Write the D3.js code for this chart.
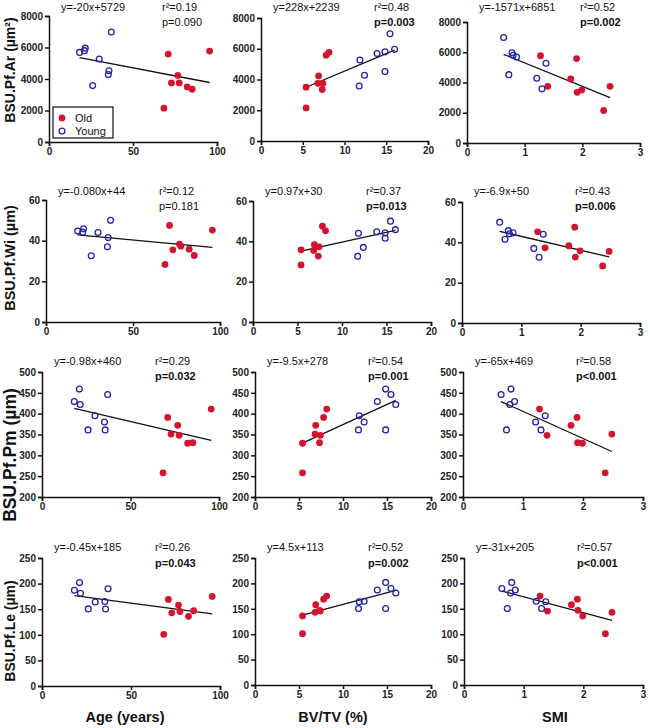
<!DOCTYPE html>
<head>
  <meta charset="utf-8">
  <style>
    body { margin: 0; background: #fff; }
    svg { font-family: Arial, "Liberation Sans", sans-serif; }
    .axis path, .axis line { stroke: #111; stroke-width: 1.5px; }
    .axis text { font-size: 10px; font-weight: bold; fill: #222; }
    .stat { font-size: 11px; fill: #111; }
    .ylab, .xlab { font-weight: bold; fill: #111; }
    .fit { stroke: #111; stroke-width: 1.3px; }
  </style>
</head>
<body>
  <svg width="650" height="728"></svg>
  <script src="https://d3js.org/d3.v7.min.js"></script>
  <script>
    // subjects, in the same order in every array
    const ageOld    = [68.4, 71.0, 72.9, 76.7, 77.5, 82.3, 85.2, 95.6];
    const ageYoung  = [18.2, 21.1, 21.6, 26.0, 29.9, 35.3, 35.7, 37.1];
    const bvtvOld   = [5.4, 7.8, 6.82, 6.9, 7.42, 5.4, 7.33, 8.15];
    const bvtvYoung = [13.9, 14.85, 16.0, 11.76, 11.85, 12.4, 14.85, 15.45];
    const smiOld    = [2.37, 1.90, 2.48, 1.80, 1.40, 1.99, 1.91, 1.275];
    const smiYoung  = [0.86, 0.80, 0.78, 1.30, 1.37, 1.21, 0.725, 0.635];

    const arOld   = [2150, 5580, 3750, 4230, 3750, 3500, 3350, 5770];
    const arYoung = [5690, 5800, 5960, 3580, 5270, 4280, 4520, 6980];
    const wiOld   = [28.3, 47.5, 35.5, 38.3, 37.3, 35.8, 32.7, 45.2];
    const wiYoung = [44.7, 44.2, 45.8, 32.6, 44.0, 37.0, 41.5, 50.0];
    const pmOld   = [258, 391, 351, 372, 348, 329, 330.5, 411];
    const pmYoung = [429, 459, 422, 361, 395, 380, 361, 446];
    const leOld   = [101, 169, 143, 158, 145.5, 136, 147, 175];
    const leYoung = [187, 202, 181, 150.6, 164, 165, 150.5, 190];

    const xTitles = ["Age (years)", "BV/TV (%)", "SMI"];
    const xTicks = [[0, 50, 100], [0, 5, 10, 15, 20], [0, 1, 2, 3]];
    const yTitles = ["BSU.Pf.Ar (µm²)", "BSU.Pf.Wi (µm)", "BSU.Pf.Pm (µm)", "BSU.Pf.Le (µm)"];
    const yTicks = [[0, 2000, 4000, 6000, 8000], [0, 20, 40, 60],
                    [200, 250, 300, 350, 400, 450, 500], [0, 50, 100, 150, 200, 250]];

    const eqLabels = [
      ["y=-20x+5729", "y=228x+2239", "y=-1571x+6851"],
      ["y=-0.080x+44", "y=0.97x+30", "y=-6.9x+50"],
      ["y=-0.98x+460", "y=-9.5x+278", "y=-65x+469"],
      ["y=-0.45x+185", "y=4.5x+113", "y=-31x+205"]
    ];
    const r2Labels = [
      ["r²=0.19", "r²=0.48", "r²=0.52"],
      ["r²=0.12", "r²=0.37", "r²=0.43"],
      ["r²=0.29", "r²=0.54", "r²=0.58"],
      ["r²=0.26", "r²=0.52", "r²=0.57"]
    ];
    const pLabels = [
      ["p=0.090", "p=0.003", "p=0.002"],
      ["p=0.181", "p=0.013", "p=0.006"],
      ["p=0.032", "p=0.001", "p<0.001"],
      ["p=0.043", "p=0.002", "p<0.001"]
    ];
    const pBold = [
      [false, true, true],
      [false, true, true],
      [true, true, true],
      [true, true, true]
    ];

    const xOld = [ageOld, bvtvOld, smiOld];
    const xYoung = [ageYoung, bvtvYoung, smiYoung];
    const yOld = [arOld, wiOld, pmOld, leOld];
    const yYoung = [arYoung, wiYoung, pmYoung, leYoung];

    // plot boxes: [x at 0, x at max, y top, y bottom]
    const boxes = [
      [[49, 217, 16, 142], [261, 428, 18, 141], [467, 640, 22, 143]],
      [[46, 220, 200, 322], [253, 431, 201, 322], [462, 640, 202, 323]],
      [[42, 219, 372, 497], [255, 431, 372, 497], [463, 643, 372, 497]],
      [[42, 220, 558, 686], [255, 431, 558, 685], [464, 643, 558, 685]]
    ];
    const statY = [[7, 22], [191, 206], [361, 376], [547, 563]];
    const yTitlePos = [[15, 70, 14], [15, 258, 14.5], [16, 455, 17.5], [15, 631, 14]];
    const xTitlePos = [125, 333, 555];

    const red = "#d4142e", blue = "#2222aa";
    const svg = d3.select("svg");

    function fit(xs, ys) {
      const mx = d3.mean(xs), my = d3.mean(ys);
      const sxy = d3.sum(xs, (x, i) => (x - mx) * (ys[i] - my));
      const sxx = d3.sum(xs, x => (x - mx) * (x - mx));
      const b = sxy / sxx;
      return { b: b, a: my - b * mx };
    }

    yTitles.forEach(function(yt, r) {
      xTitles.forEach(function(xt, c) {
        const bx = boxes[r][c];
        const xt0 = xTicks[c], yt0 = yTicks[r];
        const x = d3.scaleLinear().domain([xt0[0], xt0[xt0.length - 1]]).range([bx[0], bx[1]]);
        const y = d3.scaleLinear().domain([yt0[0], yt0[yt0.length - 1]]).range([bx[3], bx[2]]);
        const g = svg.append("g");

        g.append("g").attr("class", "axis")
          .attr("transform", "translate(0," + bx[3] + ")")
          .call(d3.axisBottom(x).tickValues(xt0).tickFormat(d => String(d))
            .tickSizeOuter(0).tickSize(4).tickPadding(2));
        g.append("g").attr("class", "axis")
          .attr("transform", "translate(" + bx[0] + ",0)")
          .call(d3.axisLeft(y).tickValues(yt0).tickFormat(d => String(d))
            .tickSizeOuter(0).tickSize(4).tickPadding(2));

        const xs = xOld[c].concat(xYoung[c]);
        const ys = yOld[r].concat(yYoung[r]);
        const f = fit(xs, ys);
        const x0 = d3.min(xs), x1 = d3.max(xs);
        g.append("line").attr("class", "fit")
          .attr("x1", x(x0)).attr("y1", y(f.a + f.b * x0))
          .attr("x2", x(x1)).attr("y2", y(f.a + f.b * x1));

        g.selectAll(".old").data(d3.zip(xOld[c], yOld[r])).join("circle")
          .attr("cx", d => x(d[0])).attr("cy", d => y(d[1]))
          .attr("r", 3.4).attr("fill", red);
        g.selectAll(".young").data(d3.zip(xYoung[c], yYoung[r])).join("circle")
          .attr("cx", d => x(d[0])).attr("cy", d => y(d[1]))
          .attr("r", 2.9).attr("fill", "none").attr("stroke", blue).attr("stroke-width", 1.3);

        const sy = statY[r];
        g.append("text").attr("class", "stat").attr("x", bx[0] + 12).attr("y", sy[0] + 4)
          .text(eqLabels[r][c]);
        g.append("text").attr("class", "stat").attr("x", bx[0] + 113).attr("y", sy[0] + 4)
          .text(r2Labels[r][c]);
        g.append("text").attr("class", "stat").attr("x", bx[0] + 113).attr("y", sy[1] + 4)
          .style("font-weight", pBold[r][c] ? "bold" : "normal")
          .text(pLabels[r][c]);
      });

      const p = yTitlePos[r];
      svg.append("text").attr("class", "ylab")
        .attr("transform", "translate(" + p[0] + "," + p[1] + ") rotate(-90)")
        .attr("text-anchor", "middle").style("font-size", p[2] + "px")
        .text(yt);
    });

    xTitles.forEach(function(t, c) {
      svg.append("text").attr("class", "xlab")
        .attr("x", xTitlePos[c]).attr("y", 722)
        .attr("text-anchor", "middle").style("font-size", "14.5px")
        .text(t);
    });

    // legend
    const lg = svg.append("g");
    lg.append("rect").attr("x", 53).attr("y", 107).attr("width", 60).attr("height", 31)
      .attr("fill", "#fff").attr("stroke", "#111").attr("stroke-width", 1.2);
    lg.append("circle").attr("cx", 62).attr("cy", 118).attr("r", 3.4).attr("fill", red);
    lg.append("circle").attr("cx", 62).attr("cy", 131).attr("r", 2.9)
      .attr("fill", "none").attr("stroke", blue).attr("stroke-width", 1.3);
    lg.append("text").attr("class", "stat").attr("x", 75).attr("y", 122).text("Old");
    lg.append("text").attr("class", "stat").attr("x", 75).attr("y", 135).text("Young");
  </script>
</body>
